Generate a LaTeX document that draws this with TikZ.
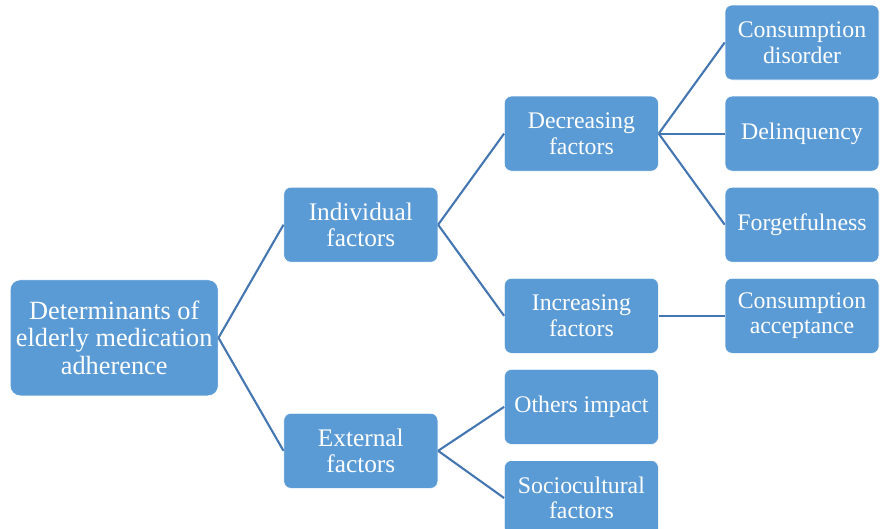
\documentclass[tikz,border=0pt]{standalone}
\usepackage{fontspec}
\setmainfont{Liberation Serif}
\usepackage{xcolor}
\usepackage{tikz}
\usetikzlibrary{positioning}
\definecolor{boxblue}{RGB}{91,155,213}
\definecolor{lineblue}{RGB}{68,118,178}

\begin{document}
\begin{tikzpicture}[
  x=1pt, y=1pt,
  node distance=15.5pt and 66pt,
  box/.style={fill=boxblue, draw=white, line width=0.6pt, rounded corners=7pt, text=white,
              align=center, minimum width=154pt, minimum height=75pt, inner sep=2pt},
  rootbox/.style={box, minimum width=208pt, minimum height=116pt, rounded corners=10pt,
                  font=\fontsize{26.3}{27.2}\selectfont},
  mainbox/.style={box, font=\fontsize{25.3}{26.7}\selectfont},
  subbox/.style={box, font=\fontsize{23.8}{25.6}\selectfont},
  conn/.style={draw=lineblue, line width=2.1pt}
]
  \useasboundingbox (0,0) rectangle (880,-528);

  % right-hand column
  \node[subbox] (consdis) at (802,-42.5) {Consumption\\disorder};
  \node[subbox, below=of consdis] (delinq) {Delinquency};
  \node[subbox, below=of delinq] (forget) {Forgetfulness};
  \node[subbox, below=of forget] (consacc) {Consumption\\acceptance};

  % middle column
  \node[subbox, left=of delinq] (decr) {Decreasing\\factors};
  \node[subbox, left=of consacc] (incr) {Increasing\\factors};
  \node[subbox, below=of incr] (others) {Others impact};
  \node[subbox, below=of others] (socio) {Sociocultural\\factors};

  % first level
  \node[mainbox, below left=of decr] (indiv) {Individual\\factors};
  \node[mainbox, below=150.5pt of indiv] (extern) {External\\factors};
  \node[rootbox, below left=17pt and 65pt of indiv] (root) {Determinants of\\elderly medication\\adherence};

  \draw[conn] (root.east) -- (indiv.west);
  \draw[conn] (root.east) -- (extern.west);
  \draw[conn] (indiv.east) -- (decr.west);
  \draw[conn] (indiv.east) -- (incr.west);
  \draw[conn] (extern.east) -- (others.west);
  \draw[conn] (extern.east) -- (socio.west);
  \draw[conn] (decr.east) -- (consdis.west);
  \draw[conn] (decr.east) -- (delinq.west);
  \draw[conn] (decr.east) -- (forget.west);
  \draw[conn] (incr.east) -- (consacc.west);
\end{tikzpicture}
\end{document}
